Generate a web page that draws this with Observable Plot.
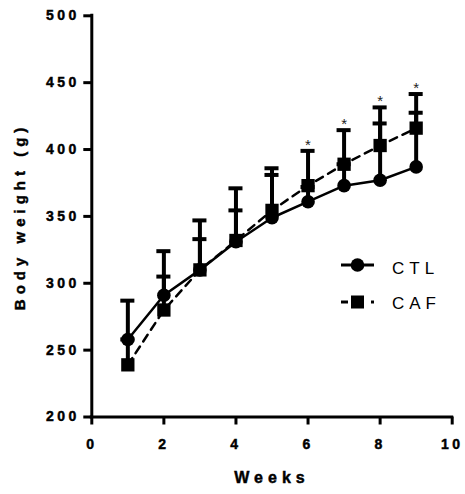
<!DOCTYPE html>
<html><head><meta charset="utf-8">
<script src="https://cdn.jsdelivr.net/npm/d3@7"></script>
<script src="https://cdn.jsdelivr.net/npm/@observablehq/plot@0.6"></script>
<style>
body{margin:0;background:#fff}
#chart svg{display:block}
</style></head><body><div id="chart"></div>
<script>
const weeks = [1, 2, 3, 4, 5, 6, 7, 8, 9];
const ctlMean = [258, 291, 310, 331, 349, 361, 373, 377, 387];
const ctlUpper = [287, 324, 347, 371, 386, 372, 389, 419.5, 427.5];
const cafMean = [239, 280, 310, 332, 354.5, 373, 389, 403, 416];
const cafUpper = [258, 305, 333, 354.5, 381, 399, 414.5, 431.5, 441.5];
const starWeeks = [6, 7, 8, 9];
const xTicks = [0, 2, 4, 6, 8, 10];
const yTicks = [200, 250, 300, 350, 400, 450, 500];
const groups = ["CTL", "CAF"];
const xLabel = "Weeks";
const yLabel = "Body weight (g)";

const ctl = weeks.map((w, i) => ({week: w, group: "CTL", mean: ctlMean[i], upper: ctlUpper[i]}));
const caf = weeks.map((w, i) => ({week: w, group: "CAF", mean: cafMean[i], upper: cafUpper[i]}));
const data = ctl.concat(caf);
const stars = caf.filter(d => starWeeks.includes(d.week));
const capHalf = 0.195;
const font = "'Liberation Sans', Arial, Helvetica, sans-serif";

const plot = Plot.plot({
  width: 465, height: 494,
  marginLeft: 91.3, marginRight: 13.3, marginTop: 15.3, marginBottom: 77.5,
  style: {fontFamily: font, color: "#000", background: "#fff", overflow: "visible"},
  x: {domain: [0, 10]},
  y: {domain: [200, 500]},
  marks: [
    Plot.line(ctl, {x: "week", y: "mean", stroke: "#000", strokeWidth: 2.5}),
    Plot.line(caf, {x: "week", y: "mean", stroke: "#000", strokeWidth: 2.5, strokeDasharray: "8,6"}),
    Plot.ruleX(data, {x: "week", y1: "mean", y2: "upper", stroke: "#000", strokeWidth: 4}),
    Plot.ruleY(data, {y: "upper", x1: d => d.week - capHalf, x2: d => d.week + capHalf, stroke: "#000", strokeWidth: 4}),
    Plot.dot(ctl, {x: "week", y: "mean", r: 6.8, fill: "#000", symbol: "circle"}),
    Plot.dot(caf, {x: "week", y: "mean", r: 7.5, fill: "#000", symbol: "square"}),
    Plot.text(stars, {x: "week", y: "upper", text: () => "*", lineAnchor: "bottom", dy: -1, fontSize: 15, fill: "#222"}),
    Plot.axisY({ticks: yTicks, tickSize: 8, tickPadding: 4, strokeWidth: 3, label: null, fontSize: 14}),
    Plot.axisX({ticks: xTicks, tickSize: 8, tickPadding: 14, strokeWidth: 3, label: null, fontSize: 14}),
    Plot.ruleX([0], {stroke: "#000", strokeWidth: 3, strokeLinecap: "square"}),
    Plot.ruleY([200], {stroke: "#000", strokeWidth: 3, strokeLinecap: "square"}),
    Plot.text([yLabel], {frameAnchor: "left", dx: -72, rotate: -90, textAnchor: "middle", lineAnchor: "middle", fontSize: 15}),
    Plot.text([xLabel], {frameAnchor: "bottom", dy: 61, textAnchor: "middle", lineAnchor: "middle", fontSize: 16})
  ]
});

const svg = d3.select(plot);
svg.selectAll("text").each(function() {
  const t = this.textContent;
  const s = d3.select(this);
  if (t === "*") return;
  s.attr("font-weight", "bold").attr("fill", "#000").style("font-weight", "bold")
    .attr("stroke", "#000").attr("stroke-width", 0.45).attr("paint-order", "stroke");
  if (t === xLabel || t === yLabel) s.attr("letter-spacing", "5px");
  else s.attr("letter-spacing", "3.5px");
});

// legend
const leg = svg.append("g").attr("fill", "#000").attr("stroke", "#000").attr("text-anchor", "start");
const rows = [{y: 265, dy: 9}, {y: 302, dy: 6.5}];
// CTL
leg.append("line").attr("x1", 341).attr("x2", 374).attr("y1", rows[0].y).attr("y2", rows[0].y).attr("stroke-width", 3);
leg.append("circle").attr("cx", 357.5).attr("cy", rows[0].y).attr("r", 6.8).attr("stroke", "none");
// CAF
leg.append("line").attr("x1", 341).attr("x2", 348).attr("y1", rows[1].y).attr("y2", rows[1].y).attr("stroke-width", 3);
leg.append("line").attr("x1", 371).attr("x2", 374).attr("y1", rows[1].y).attr("y2", rows[1].y).attr("stroke-width", 3);
leg.append("rect").attr("x", 351).attr("y", rows[1].y - 6.5).attr("width", 13).attr("height", 13).attr("stroke", "none");
groups.forEach((g, i) => {
  leg.append("text").attr("x", 392).attr("y", rows[i].y + rows[i].dy)
    .attr("stroke", "none").attr("fill", "#000").attr("font-size", 17).attr("letter-spacing", "5px")
    .attr("text-anchor", "start").attr("font-family", font).text(g);
});

document.getElementById("chart").append(plot);
</script></body></html>
